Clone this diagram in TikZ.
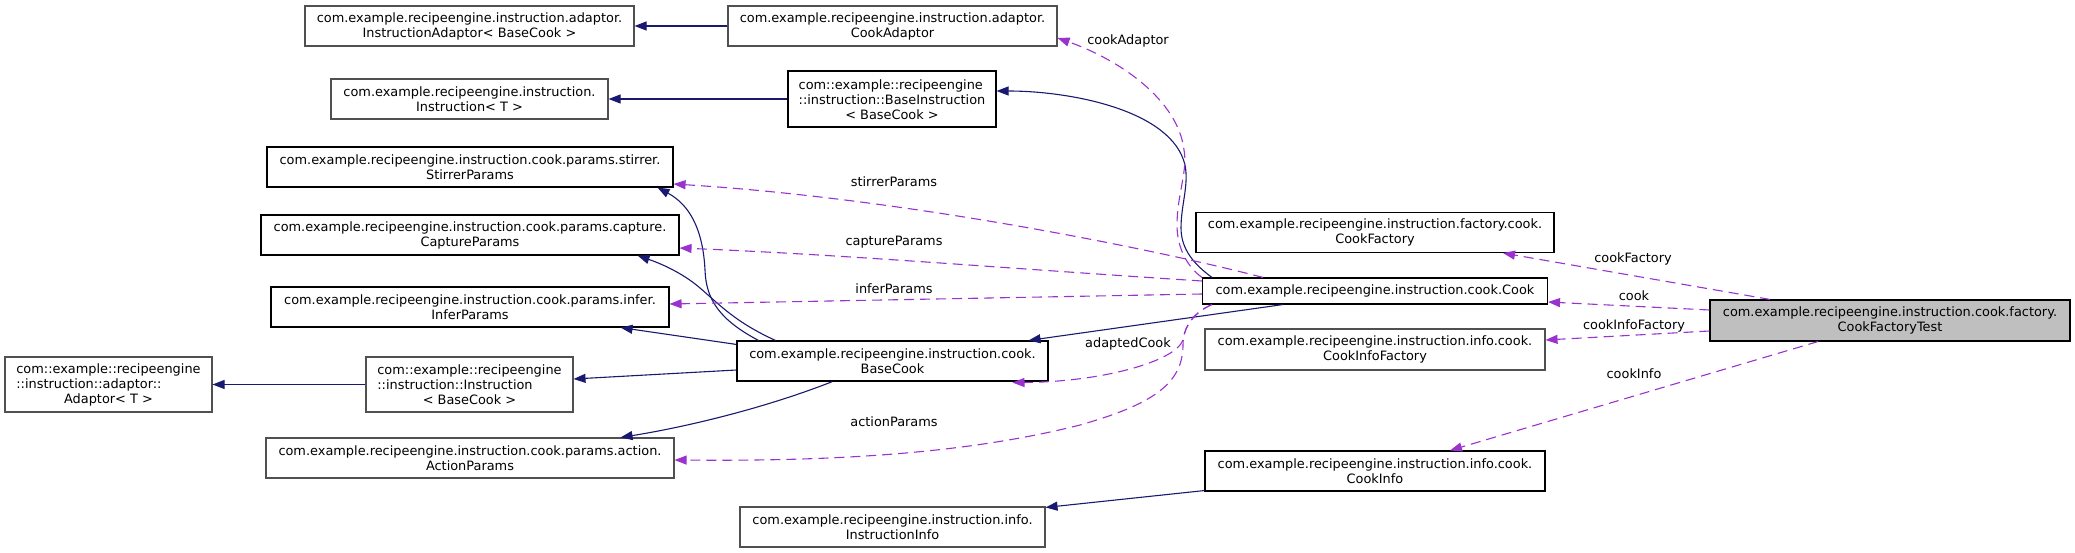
\documentclass[tikz,border=0pt]{standalone}
\usepackage{fontspec}
\newfontfamily\dv{DejaVu Sans}
\usetikzlibrary{arrows.meta,calc}
\definecolor{edgeblue}{HTML}{191970}
\definecolor{edgeorchid}{HTML}{9A32CD}
\definecolor{boxgray}{HTML}{505050}
\definecolor{testfill}{HTML}{BFBFBF}
\newcommand{\nf}{\dv\fontsize{12.9}{15}\selectfont}
\newcommand{\lft}[2]{\begin{tabular}{@{}l@{}}#1\\#2\end{tabular}}
\begin{document}
\begin{tikzpicture}[x=1pt,y=-1pt,
  cls/.style={draw=black, line width=1.1pt, fill=white, inner sep=0pt, align=center, font=\nf, text=black},
  graycls/.style={cls, draw=boxgray},
  inh/.style={draw=edgeblue, line width=1.1pt, -{Triangle[length=12pt,width=9pt]}},
  use/.style={draw=edgeorchid, line width=1.1pt, dash pattern=on 10pt off 6pt, -{Triangle[length=12pt,width=9pt]}},
  lbl/.style={font=\nf, text=black, inner sep=0pt},
]
\useasboundingbox (0,0) rectangle (2075,553);

% left column
\node[graycls, minimum width=329pt, minimum height=40pt] (iadapt) at (469.5,26)
  {com.example.recipeengine.instruction.adaptor.\\InstructionAdaptor< BaseCook >};
\node[graycls, minimum width=277pt, minimum height=40pt] (instT) at (469.5,99)
  {com.example.recipeengine.instruction.\\Instruction< T >};
\node[cls, minimum width=406pt, minimum height=40pt] (stir) at (470,167)
  {com.example.recipeengine.instruction.cook.params.stirrer.\\StirrerParams};
\node[cls, minimum width=418pt, minimum height=40pt] (capt) at (470,235)
  {com.example.recipeengine.instruction.cook.params.capture.\\CaptureParams};
\node[cls, minimum width=398pt, minimum height=40pt] (infer) at (470,307)
  {com.example.recipeengine.instruction.cook.params.infer.\\InferParams};
\node[graycls, minimum width=207pt, minimum height=55pt] (instBC) at (469.5,384.5)
  {\lft{com::example::recipeengine}{::instruction::Instruction}\\< BaseCook >};
\node[graycls, minimum width=408pt, minimum height=40pt] (action) at (470,458)
  {com.example.recipeengine.instruction.cook.params.action.\\ActionParams};
\node[graycls, minimum width=207pt, minimum height=55pt] (adaptor) at (108.5,384.5)
  {\lft{com::example::recipeengine}{::instruction::adaptor::}\\Adaptor< T >};

% middle column
\node[graycls, minimum width=329pt, minimum height=40pt] (cadapt) at (892.5,26)
  {com.example.recipeengine.instruction.adaptor.\\CookAdaptor};
\node[cls, minimum width=208pt, minimum height=56pt] (binst) at (892,99)
  {\lft{com::example::recipeengine}{::instruction::BaseInstruction}\\< BaseCook >};
\node[cls, minimum width=311pt, minimum height=40pt] (basecook) at (892.5,361)
  {com.example.recipeengine.instruction.cook.\\BaseCook};
\node[graycls, minimum width=305pt, minimum height=40pt] (iinfo) at (892.5,527)
  {com.example.recipeengine.instruction.info.\\InstructionInfo};

% right column
\node[cls, minimum width=358pt, minimum height=40pt] (cfactory) at (1375,232.5)
  {com.example.recipeengine.instruction.factory.cook.\\CookFactory};
\node[cls, minimum width=345pt, minimum height=26pt] (cook) at (1375,291)
  {com.example.recipeengine.instruction.cook.Cook};
\node[graycls, minimum width=340pt, minimum height=41pt] (cifactory) at (1375,349.5)
  {com.example.recipeengine.instruction.info.cook.\\CookInfoFactory};
\node[cls, minimum width=340pt, minimum height=40pt] (cinfo) at (1375,471)
  {com.example.recipeengine.instruction.info.cook.\\CookInfo};
\node[cls, fill=testfill, minimum width=360pt, minimum height=41pt] (test) at (1890,320.5)
  {com.example.recipeengine.instruction.cook.factory.\\CookFactoryTest};

% inheritance
\draw[inh] (cadapt.west) -- (iadapt.east);
\draw[inh] (binst.west) -- (instT.east);
\draw[inh] ([xshift=10pt]cook.north west) .. controls (1195,265) and (1181,250) .. (1181,228)
  .. controls (1181,205) and (1189,185) .. (1185,165)
  .. controls (1172,110) and (1070,91) .. ([yshift=8pt]binst.east);
\draw[inh] ([xshift=-92pt]cook.south) -- ([xshift=-20pt]basecook.north east);
\draw[inh] ([xshift=-134pt]basecook.north) .. controls (720,320) and (706,300) .. (705,270)
  .. controls (703,230) and (690,205) .. ([xshift=-16pt]stir.south east);
\draw[inh] ([xshift=-117pt]basecook.north) .. controls (735,322) and (720,305) .. (700,288)
  .. controls (685,275) and (665,265) .. ([xshift=-42pt]capt.south east);
\draw[inh] ([yshift=-4pt]basecook.north west) -- ([xshift=-49pt]infer.south east);
\draw[inh] ([yshift=-9pt]basecook.west) -- ([yshift=5.5pt]instBC.east);
\draw[inh] ([xshift=-60pt]basecook.south) .. controls (760,410) and (680,428) .. ([xshift=-54pt]action.north east);
\draw[inh] (instBC.west) -- (adaptor.east);
\draw[inh] ([yshift=1pt]cinfo.south west) -- ([yshift=-1pt]iinfo.north east);

% usage
\draw[use] (cook.north west) .. controls (1185,265) and (1177,245) .. (1177,225)
  .. controls (1177,195) and (1188,170) .. (1184,150)
  .. controls (1178,100) and (1120,60) .. ([yshift=-12pt]cadapt.east);
\node[lbl] (lcadapt) at (1128,41) {cookAdaptor};

\draw[use] ([xshift=-112pt]cook.north) .. controls (1150,248) and (900,198) .. ([yshift=-17pt]stir.east);
\node[lbl] (lstir) at (894,182) {stirrerParams};

\draw[use] ([yshift=10pt]cook.west) .. controls (1000,268) and (850,255) .. ([yshift=-13pt]capt.east);
\node[lbl] (lcapt) at (894,242) {captureParams};

\draw[use] ([yshift=-3pt]cook.west) -- ([yshift=3pt]infer.east);
\node[lbl] (linfer) at (894,289) {inferParams};

\draw[use] ([xshift=10pt]cook.south west) .. controls (1195,312) and (1185,325) .. (1183,340)
  .. controls (1175,362) and (1100,382) .. ([xshift=120pt,yshift=-1pt]basecook.south);
\node[lbl] (ladapted) at (1128,344) {adaptedCook};

\draw[use] ([xshift=10pt]cook.south west) .. controls (1195,312) and (1183,325) .. (1183,345)
  .. controls (1183,385) and (1150,405) .. (1080,425)
  .. controls (950,458) and (800,461) .. ([yshift=-2pt]action.east);
\node[lbl] (laction) at (894,422) {actionParams};

\draw[use] ([xshift=-120pt]test.north) -- ([xshift=128pt]cfactory.south);
\node[lbl] (lcfactory) at (1633,259) {cookFactory};

\draw[use] ([yshift=10.5pt]test.west) -- ([yshift=-11pt]cook.east);
\node[lbl] (lcook) at (1634,296) {cook};

\draw[use] ([yshift=-10.5pt]test.west) -- ([yshift=9.5pt]cifactory.east);
\node[lbl] (lcifactory) at (1634,326) {cookInfoFactory};

\draw[use] ([xshift=-72pt]test.south) -- ([xshift=75pt]cinfo.north);
\node[lbl] (lcinfo) at (1634,374) {cookInfo};
\end{tikzpicture}
\end{document}
